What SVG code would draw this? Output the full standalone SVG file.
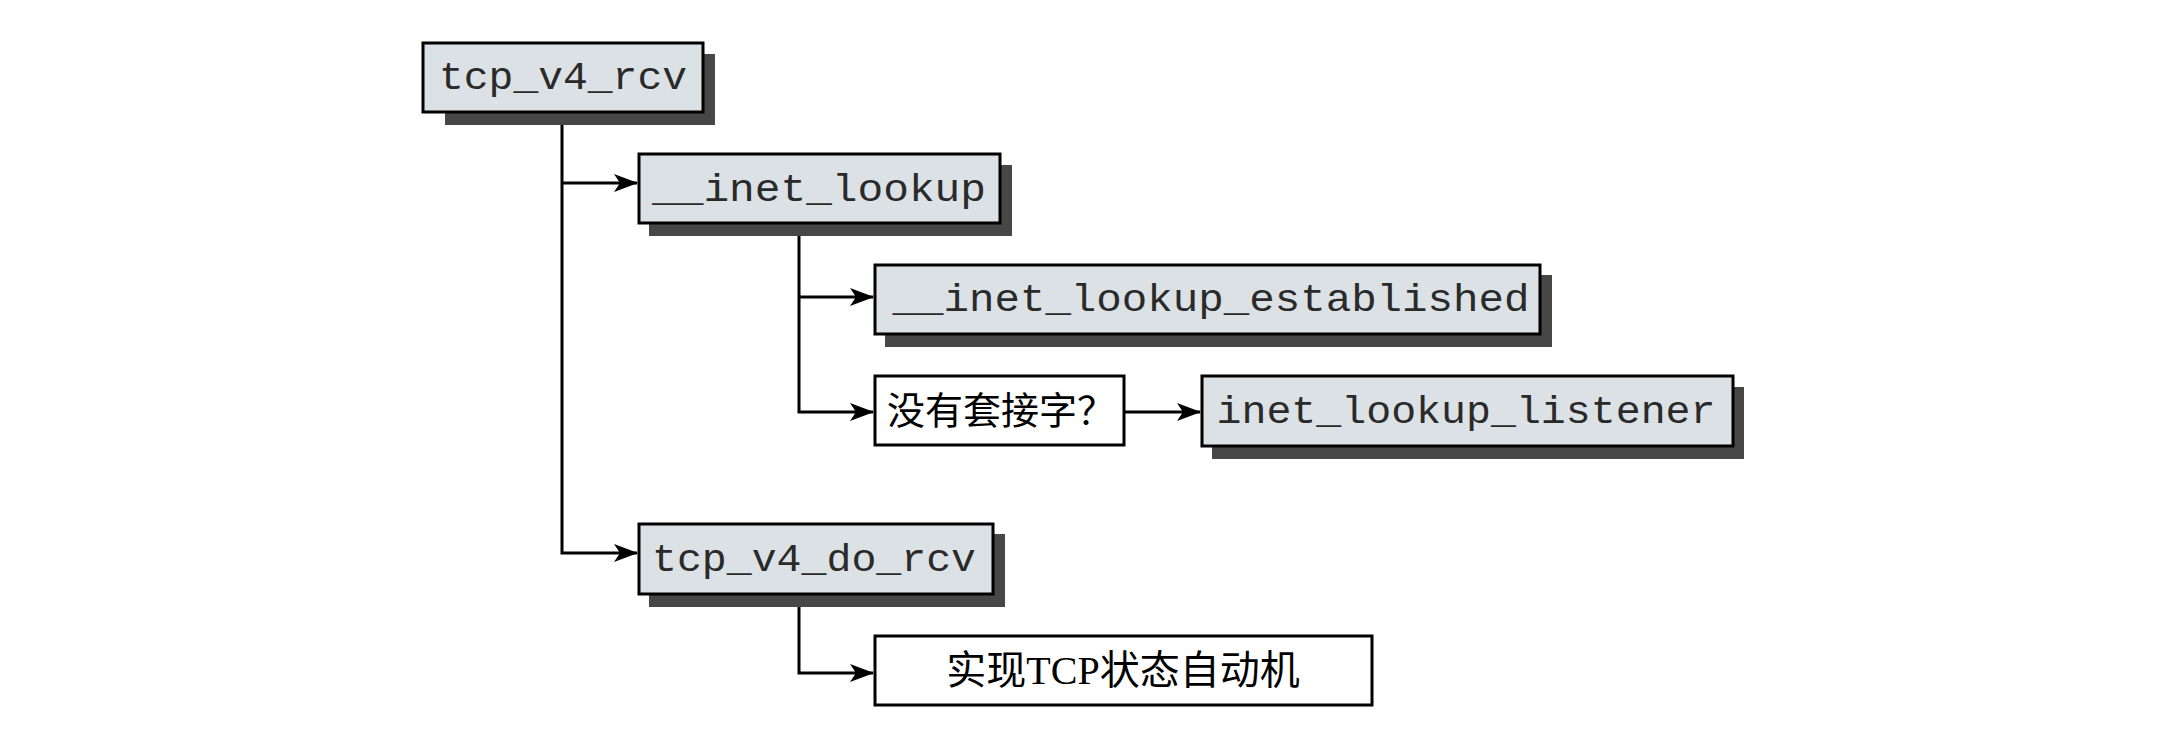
<svg xmlns="http://www.w3.org/2000/svg" width="2174" height="730" viewBox="0 0 2174 730">
<style>
.box{fill:#dbe1e4;stroke:#000;stroke-width:3}
.wbox{fill:#fff;stroke:#000;stroke-width:3}
.sh{fill:#474747}
.mono{font-family:"Liberation Mono","DejaVu Sans Mono",monospace;font-size:38px;fill:#2a2a2a;text-anchor:middle}
.cjk{font-family:"Liberation Serif","Noto Sans CJK SC",serif;font-size:38px;fill:#000;text-anchor:middle}
.c{fill:none;stroke:#000;stroke-width:3}
</style>
<defs>
<marker id="ah" markerUnits="userSpaceOnUse" markerWidth="24" markerHeight="20" viewBox="0 0 24 20" refX="23" refY="10" orient="auto">
<path d="M0,1 L24,10 L0,19 L6,10 z" fill="#000"/>
</marker>
</defs>
<rect width="2174" height="730" fill="#fff"/>
<g id="connectors">
<path class="c" d="M562,112 V553 H637" marker-end="url(#ah)"/>
<path class="c" d="M562,183 H637" marker-end="url(#ah)"/>
<path class="c" d="M799,224 V412 H873" marker-end="url(#ah)"/>
<path class="c" d="M799,297 H873" marker-end="url(#ah)"/>
<path class="c" d="M1124,412 H1200" marker-end="url(#ah)"/>
<path class="c" d="M799,593 V673 H873" marker-end="url(#ah)"/>
</g>
<g id="n_tcp_v4_rcv">
<rect class="sh" x="445" y="54" width="270" height="71"/>
<rect class="box" x="423" y="43" width="280" height="69"/>
<text class="mono" x="563" y="89" textLength="248" lengthAdjust="spacingAndGlyphs">tcp_v4_rcv</text>
</g>
<g id="n_inet_lookup">
<rect class="sh" x="649" y="165" width="363" height="71"/>
<rect class="box" x="639" y="154" width="361" height="69"/>
<text class="mono" x="819" y="201" textLength="334" lengthAdjust="spacingAndGlyphs">__inet_lookup</text>
</g>
<g id="n_established">
<rect class="sh" x="885" y="275" width="667" height="72"/>
<rect class="box" x="875" y="265" width="665" height="69"/>
<text class="mono" x="1211" y="311" textLength="637" lengthAdjust="spacingAndGlyphs">__inet_lookup_established</text>
</g>
<g id="n_nosock">
<rect class="wbox" x="875" y="376" width="249" height="69"/>
<text class="cjk" x="1001" y="424">没有套接字？</text>
</g>
<g id="n_listener">
<rect class="sh" x="1212" y="387" width="532" height="72"/>
<rect class="box" x="1202" y="376" width="531" height="70"/>
<text class="mono" x="1466" y="423" textLength="499" lengthAdjust="spacingAndGlyphs">inet_lookup_listener</text>
</g>
<g id="n_tcp_v4_do_rcv">
<rect class="sh" x="649" y="534" width="356" height="73"/>
<rect class="box" x="639" y="524" width="354" height="70"/>
<text class="mono" x="814" y="571" textLength="324" lengthAdjust="spacingAndGlyphs">tcp_v4_do_rcv</text>
</g>
<g id="n_fsm">
<rect class="wbox" x="875" y="636" width="497" height="69"/>
<text class="cjk" x="1123" y="684" style="font-size:40px">实现TCP状态自动机</text>
</g>
</svg>
